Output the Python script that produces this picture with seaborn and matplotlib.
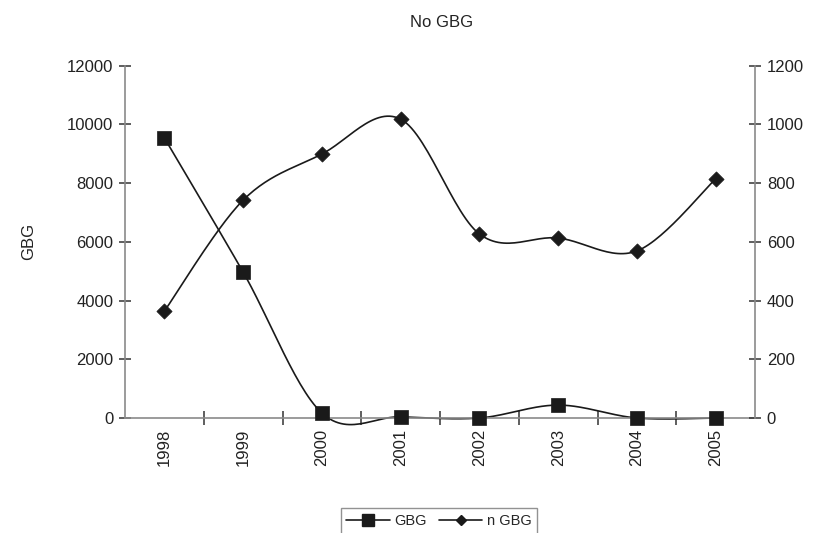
import numpy as np
import pandas as pd
import matplotlib
matplotlib.use("Agg")
import matplotlib.pyplot as plt
from matplotlib.lines import Line2D
import seaborn as sns

years = ["1998", "1999", "2000", "2001", "2002", "2003", "2004", "2005"]
gbg = [9540, 4970, 170, 40, 0, 440, 0, 0]
n_gbg = [364, 742, 899, 1018, 627, 613, 569, 814]
title = "No GBG"
left_ticks = [0, 2000, 4000, 6000, 8000, 10000, 12000]
right_ticks = [0, 200, 400, 600, 800, 1000, 1200]

sns.set_theme(style="white")
plt.rcParams["font.family"] = ["Liberation Sans", "DejaVu Sans"]


def smooth(xs, ys, n=30):
    """Excel-style smoothed line (Catmull-Rom Bezier through data points)."""
    xs = np.asarray(xs, float)
    ys = np.asarray(ys, float)
    px = np.concatenate([[xs[0]], xs, [xs[-1]]])
    py = np.concatenate([[ys[0]], ys, [ys[-1]]])
    outx, outy = [], []
    t = np.linspace(0, 1, n)
    for i in range(1, len(px) - 2):
        p0 = np.array([px[i], py[i]])
        p3 = np.array([px[i + 1], py[i + 1]])
        c1 = p0 + (np.array([px[i + 1], py[i + 1]]) - np.array([px[i - 1], py[i - 1]])) / 6
        c2 = p3 - (np.array([px[i + 2], py[i + 2]]) - np.array([px[i], py[i]])) / 6
        b = ((1 - t) ** 3)[:, None] * p0 + (3 * (1 - t) ** 2 * t)[:, None] * c1 \
            + (3 * (1 - t) * t ** 2)[:, None] * c2 + (t ** 3)[:, None] * p3
        outx.extend(b[:, 0])
        outy.extend(b[:, 1])
    return np.array(outx), np.array(outy)


idx = np.arange(len(years))
df = pd.DataFrame({"x": idx, "gbg": gbg, "ngbg": n_gbg})
sx1, sy1 = smooth(idx, gbg)
sx2, sy2 = smooth(idx, n_gbg)
curve1 = pd.DataFrame({"x": sx1, "y": sy1})
curve2 = pd.DataFrame({"x": sx2, "y": sy2})

fig = plt.figure(figsize=(8.13, 5.33), dpi=100)
ax = fig.add_axes([125 / 813, 1 - 418 / 533, (755 - 125) / 813, (418 - 65.7) / 533])
ax2 = ax.twinx()

ink = "#1a1a1a"
axis_col = "#8a8a8a"
txt = "#222222"
fs = 12

sns.lineplot(data=curve1, x="x", y="y", ax=ax, color=ink, lw=1.2, sort=False,
             estimator=None, clip_on=False)
sns.scatterplot(data=df, x="x", y="gbg", ax=ax, marker="s", s=105, color=ink,
                edgecolor=ink, linewidth=0.5, zorder=5, clip_on=False)
sns.lineplot(data=curve2, x="x", y="y", ax=ax2, color=ink, lw=1.2, sort=False,
             estimator=None)
sns.scatterplot(data=df, x="x", y="ngbg", ax=ax2, marker="D", s=60, color=ink,
                edgecolor=ink, linewidth=0.5, zorder=5)

for a in (ax, ax2):
    a.set_xlim(-0.5, len(years) - 0.5)
    for s in a.spines.values():
        s.set_visible(False)
    a.grid(False)

ax.set_ylim(0, 12000)
ax2.set_ylim(0, 1200)
ax.set_yticks(left_ticks)
ax.set_yticklabels([str(v) for v in left_ticks], fontsize=fs, color=txt)
ax2.set_yticks(right_ticks)
ax2.set_yticklabels([str(v) for v in right_ticks], fontsize=fs, color=txt)
ax.spines["left"].set_visible(True)
ax.spines["bottom"].set_visible(True)
ax2.spines["right"].set_visible(True)
for s in (ax.spines["left"], ax.spines["bottom"], ax2.spines["right"]):
    s.set_color(axis_col)
    s.set_linewidth(1.2)

ax.tick_params(axis="y", which="major", direction="inout", length=9, width=1.1,
               color="#333333", left=True, pad=4)
ax2.tick_params(axis="y", which="major", direction="inout", length=9, width=1.1,
                color="#333333", right=True, pad=4)

ax.set_xticks(idx)
ax.set_xticklabels(years, rotation=90, fontsize=fs, color=txt)
ax.set_xticks(np.arange(0.5, len(years) - 0.5, 1), minor=True)
ax.tick_params(axis="x", which="major", length=0, pad=8, bottom=True,
               labelbottom=True)
ax.tick_params(axis="x", which="minor", direction="inout", length=10, width=1.1,
               color="#333333", bottom=True)
ax.set_xlabel("")
ax2.set_xlabel("")

ax.set_ylabel("GBG", fontsize=fs, color=txt, labelpad=22)
ax2.set_ylabel("")
fig.text(442 / 813, 1 - 22 / 533, title, ha="center", va="center", fontsize=fs,
         color=txt)

handles = [
    Line2D([0], [0], color=ink, lw=1.2, marker="s", markersize=8),
    Line2D([0], [0], color=ink, lw=1.2, marker="D", markersize=5.5),
]
leg = fig.legend(handles, ["GBG", "n GBG"], loc="upper center",
                 bbox_to_anchor=(439 / 813, 1 - 501 / 533), ncol=2, frameon=True,
                 fontsize=10.5, handlelength=3.0, columnspacing=0.8,
                 handletextpad=0.3, borderpad=0.4, fancybox=False)
leg.get_frame().set_edgecolor("#777777")
leg.get_frame().set_linewidth(1.0)

fig.savefig("out.png", dpi=100)
